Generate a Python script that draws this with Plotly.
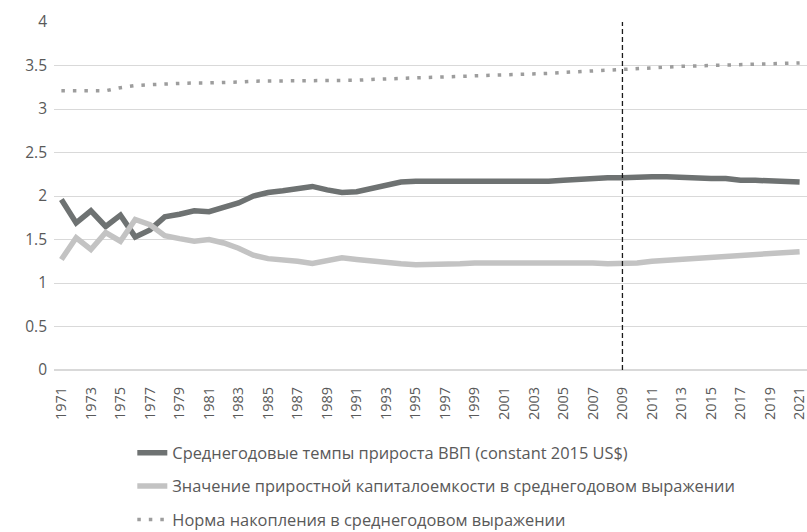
import plotly.graph_objects as go

years = list(range(1971, 2022))

gdp_growth = [1.96, 1.69, 1.83, 1.65, 1.78, 1.53, 1.61, 1.76, 1.79, 1.83,
              1.82, 1.87, 1.92, 2.00, 2.04, 2.06, 2.08, 2.11, 2.07, 2.04,
              2.05, 2.09, 2.13, 2.16, 2.17, 2.17, 2.17, 2.17, 2.16, 2.16,
              2.16, 2.16, 2.17, 2.17, 2.18, 2.19, 2.21, 2.21, 2.21, 2.22,
              2.22, 2.22, 2.21, 2.21, 2.20, 2.20, 2.18, 2.18, 2.17, 2.16,
              2.16]

icor = [1.27, 1.52, 1.385, 1.58, 1.48, 1.73, 1.67, 1.545, 1.51, 1.48,
        1.50, 1.46, 1.40, 1.32, 1.28, 1.27, 1.25, 1.225, 1.26, 1.29,
        1.27, 1.25, 1.23, 1.22, 1.21, 1.21, 1.21, 1.22, 1.23, 1.23,
        1.24, 1.24, 1.245, 1.245, 1.24, 1.235, 1.23, 1.22, 1.22, 1.23,
        1.25, 1.26, 1.27, 1.28, 1.29, 1.30, 1.31, 1.32, 1.34, 1.355,
        1.36]

savings_rate = [3.21, 3.21, 3.20, 3.21, 3.245, 3.27, 3.28, 3.29, 3.30, 3.30,
                3.30, 3.30, 3.31, 3.32, 3.32, 3.33, 3.33, 3.33, 3.33, 3.33,
                3.33, 3.34, 3.345, 3.355, 3.36, 3.365, 3.37, 3.375, 3.375, 3.38,
                3.385, 3.39, 3.40, 3.41, 3.42, 3.43, 3.44, 3.45, 3.46, 3.47,
                3.48, 3.485, 3.49, 3.495, 3.50, 3.505, 3.51, 3.515, 3.52, 3.53,
                3.53]

series_names = [
    "Среднегодовые темпы прироста ВВП (constant 2015 US$)",
    "Значение приростной капиталоемкости в среднегодовом выражении",
    "Норма накопления в среднегодовом выражении",
]

y_ticks = [0, 0.5, 1, 1.5, 2, 2.5, 3, 3.5, 4]
y_tick_labels = ["0", "0.5", "1", "1.5", "2", "2.5", "3", "3.5", "4"]
x_ticks = years[::2]
x_tick_labels = [str(y) for y in x_ticks]

marker_year = 2009

FONT = "Open Sans, Liberation Sans, sans-serif"
TXT = "#595959"

fig = go.Figure()
fig.add_trace(go.Scatter(
    x=years, y=gdp_growth, mode="lines", name=series_names[0],
    line=dict(color="#6e7272", width=5.5), legendgroup="a"))
fig.add_trace(go.Scatter(
    x=years, y=icor, mode="lines", name=series_names[1],
    line=dict(color="#c3c3c3", width=5.5), legendgroup="b"))
fig.add_trace(go.Scatter(
    x=years, y=savings_rate, mode="lines", name=series_names[2],
    line=dict(color="#9d9d9d", width=3.5, dash="3.5px,8px"), legendgroup="c"))

fig.add_shape(type="line", xref="x", yref="paper",
              x0=marker_year, x1=marker_year, y0=0, y1=1,
              line=dict(color="#1a1a1a", width=1.3, dash="5px,3px"))

fig.update_layout(
    width=807, height=532,
    margin=dict(l=54, r=0, t=22, b=162, autoexpand=False),
    paper_bgcolor="white", plot_bgcolor="white",
    font=dict(family=FONT, color=TXT, size=15),
    showlegend=True,
    legend=dict(
        orientation="v", x=0.104, xanchor="left", y=-0.1885, yanchor="top",
        font=dict(family=FONT, size=16.4, color=TXT),
        tracegroupgap=9, bgcolor="rgba(0,0,0,0)",
    ),
    xaxis=dict(
        range=[1970.5, 2021.5], tickmode="array", tickvals=x_ticks,
        ticktext=x_tick_labels, tickangle=-90, showgrid=False,
        zeroline=False, showline=False, ticks="", ticklabelstandoff=13,
        ticklabeloverflow="allow",
        tickfont=dict(family=FONT, size=14.5, color=TXT),
    ),
    yaxis=dict(
        range=[0, 4], tickmode="array", tickvals=y_ticks, ticktext=y_tick_labels,
        showgrid=True, gridcolor="#d9d9d9", gridwidth=1,
        zeroline=True, zerolinecolor="#d9d9d9", zerolinewidth=1.5,
        showline=False, ticks="", ticklabelstandoff=6,
        tickfont=dict(family=FONT, size=15.5, color=TXT),
    ),
)

fig.write_html("out.html", config={"displayModeBar": False},
               post_script="document.body.style.margin='0px';")
